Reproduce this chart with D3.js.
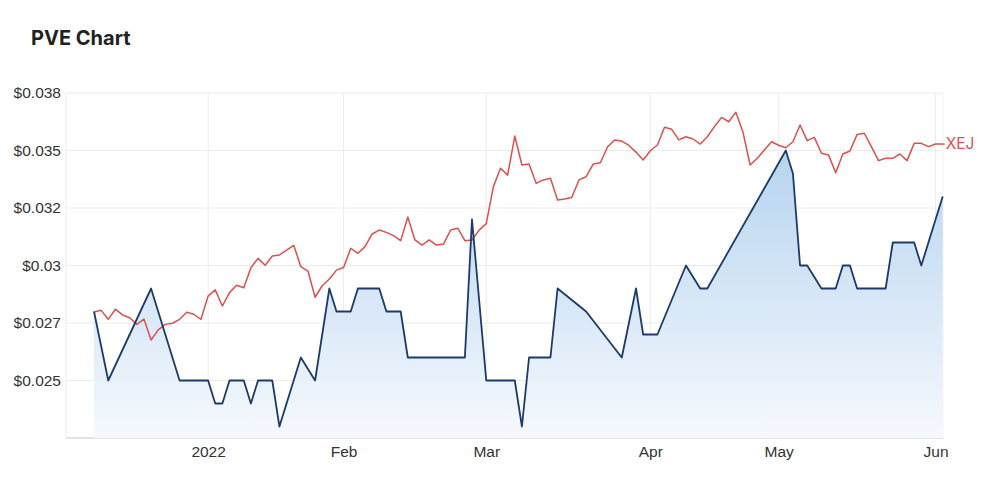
<!DOCTYPE html>
<html lang="en">
<head>
<meta charset="UTF-8">
<title>PVE Chart</title>
<script src="https://d3js.org/d3.v7.min.js"></script>
<style>
  body { margin: 0; background: #fff; }
  svg { display: block; font-family: Inter, "Noto Sans", sans-serif; }
  .title { font-size: 20px; font-weight: 700; fill: #222; }
  .grid line { stroke: #ececec; stroke-width: 1px; }
  .axis text { font-size: 15.5px; fill: #333; }
  .xej { fill: none; stroke: #dc5050; stroke-width: 1.5px; stroke-linejoin: round; }
  .pve { fill: none; stroke: #1c3a6a; stroke-width: 1.8px; stroke-linejoin: round; }
  .xej-label { font-size: 15.5px; fill: #dc5050; }
</style>
</head>
<body>
<svg width="1000" height="494"></svg>
<script>
// trading calendar (ASX): weekdays between first and last day, minus holidays
var firstDay = "2021-12-08", lastDay = "2022-06-02";
var holidays = ["2021-12-27", "2021-12-28", "2022-01-03", "2022-01-26",
                "2022-04-15", "2022-04-18", "2022-04-25"];

// XEJ, one value per trading day
var xejValues = [
  0.02798, 0.02805, 0.02766, 0.02810, 0.02785, 0.02773, 0.02744, 0.02767, 0.02676, 0.02720,
  0.02744, 0.02749, 0.02766, 0.02797, 0.02788, 0.02766, 0.02867, 0.02894, 0.02824, 0.02882,
  0.02914, 0.02903, 0.02990, 0.03031, 0.03001, 0.03041, 0.03046, 0.03067, 0.03088, 0.02995,
  0.02976, 0.02862, 0.02912, 0.02941, 0.02980, 0.02991, 0.03075, 0.03053, 0.03082, 0.03137,
  0.03154, 0.03144, 0.03130, 0.03108, 0.03211, 0.03111, 0.03089, 0.03111, 0.03089, 0.03093,
  0.03154, 0.03162, 0.03108, 0.03111, 0.03154, 0.03182, 0.03343, 0.03423, 0.03393, 0.03563,
  0.03437, 0.03441, 0.03357, 0.03372, 0.03379, 0.03285, 0.03289, 0.03297, 0.03372, 0.03386,
  0.03441, 0.03447, 0.03515, 0.03546, 0.03541, 0.03522, 0.03493, 0.03459, 0.03499, 0.03524,
  0.03601, 0.03592, 0.03546, 0.03560, 0.03550, 0.03528, 0.03560, 0.03604, 0.03644, 0.03625,
  0.03666, 0.03579, 0.03437, 0.03466, 0.03502, 0.03538, 0.03523, 0.03512, 0.03538, 0.03611,
  0.03543, 0.03557, 0.03488, 0.03480, 0.03403, 0.03485, 0.03498, 0.03570, 0.03575, 0.03517,
  0.03456, 0.03466, 0.03466, 0.03485, 0.03456, 0.03531, 0.03531, 0.03517, 0.03528, 0.03528
];

// PVE, traded days only
var pveDates = [
  "2021-12-08", "2021-12-10", "2021-12-20", "2021-12-24", "2022-01-04", "2022-01-05",
  "2022-01-06", "2022-01-07", "2022-01-11", "2022-01-12", "2022-01-13", "2022-01-17",
  "2022-01-18", "2022-01-21", "2022-01-25", "2022-01-28", "2022-01-31", "2022-02-02",
  "2022-02-03", "2022-02-08", "2022-02-09", "2022-02-11", "2022-02-14", "2022-02-24",
  "2022-02-25", "2022-03-01", "2022-03-07", "2022-03-08", "2022-03-09", "2022-03-14",
  "2022-03-15", "2022-03-21", "2022-03-28", "2022-03-30", "2022-03-31", "2022-04-04",
  "2022-04-08", "2022-04-12", "2022-04-13", "2022-05-03", "2022-05-04", "2022-05-05",
  "2022-05-06", "2022-05-10", "2022-05-12", "2022-05-13", "2022-05-16", "2022-05-17",
  "2022-05-23", "2022-05-24", "2022-05-27", "2022-05-30", "2022-06-02"
];
var pveValues = [
  0.028, 0.025, 0.029, 0.025, 0.025, 0.024,
  0.024, 0.025, 0.025, 0.024, 0.025, 0.025,
  0.023, 0.026, 0.025, 0.029, 0.028, 0.028,
  0.029, 0.029, 0.028, 0.028, 0.026, 0.026,
  0.032, 0.025, 0.025, 0.023, 0.026, 0.026,
  0.029, 0.028, 0.026, 0.029, 0.027, 0.027,
  0.030, 0.029, 0.029, 0.035, 0.034, 0.030,
  0.030, 0.029, 0.029, 0.030, 0.030, 0.029,
  0.029, 0.031, 0.031, 0.030, 0.033
];

var yTicks = [0.025, 0.0275, 0.03, 0.0325, 0.035, 0.0375];
var yLabels = ["$0.025", "$0.027", "$0.03", "$0.032", "$0.035", "$0.038"];
var monthLabels = ["2022", "Feb", "Mar", "Apr", "May", "Jun"];

var fmt = d3.timeFormat("%Y-%m-%d"), parse = d3.timeParse("%Y-%m-%d");
var tradingDays = d3.timeDay.range(parse(firstDay), d3.timeDay.offset(parse(lastDay), 1))
    .filter(function(d){ return d.getDay() !== 0 && d.getDay() !== 6; })
    .map(fmt)
    .filter(function(s){ return holidays.indexOf(s) < 0; });

// first trading day of each month from January
var monthTicks = [];
tradingDays.forEach(function(s, i){
    if (s >= "2022-01-01" && (i === 0 || s.slice(0, 7) !== tradingDays[i - 1].slice(0, 7))) monthTicks.push(s);
});

var plot = {left: 66, right: 943, top: 93, bottom: 438};

var x = d3.scalePoint().domain(tradingDays).range([94, 942.7]);
var y = d3.scaleLinear().domain([0.0225, 0.0375]).range([plot.bottom, plot.top]);

var svg = d3.select("svg");

svg.append("text").attr("class", "title").attr("x", 31).attr("y", 45).text("PVE Chart");

var defs = svg.append("defs");
var grad = defs.append("linearGradient").attr("id", "pveFill")
    .attr("gradientUnits", "userSpaceOnUse")
    .attr("x1", 0).attr("x2", 0)
    .attr("y1", y(d3.max(pveValues))).attr("y2", plot.bottom);
grad.append("stop").attr("offset", 0).attr("stop-color", "#b6d4ef");
grad.append("stop").attr("offset", 1).attr("stop-color", "#f6f9fe");

// grid
var grid = svg.append("g").attr("class", "grid");
grid.selectAll("line.h").data(yTicks).enter().append("line")
    .attr("x1", plot.left).attr("x2", plot.right)
    .attr("y1", function(d){ return y(d); }).attr("y2", function(d){ return y(d); });
grid.selectAll("line.v").data(monthTicks).enter().append("line")
    .attr("x1", function(d){ return x(d); }).attr("x2", function(d){ return x(d); })
    .attr("y1", plot.top).attr("y2", plot.bottom);
grid.append("line").attr("x1", plot.left).attr("x2", plot.left)
    .attr("y1", plot.top).attr("y2", plot.bottom);
grid.append("line").attr("x1", plot.right).attr("x2", plot.right)
    .attr("y1", plot.top).attr("y2", plot.bottom).style("stroke", "#f3f3f3");
grid.append("line").attr("x1", plot.left).attr("x2", plot.right)
    .attr("y1", plot.bottom).attr("y2", plot.bottom)
    .style("stroke", "#e3e3e3").style("stroke-width", "2px");

// axes
var yAxis = d3.axisLeft(y).tickValues(yTicks).tickSize(0).tickPadding(5)
    .tickFormat(function(d, i){ return yLabels[i]; });
svg.append("g").attr("class", "axis").attr("transform", "translate(" + plot.left + ",0)")
    .call(yAxis).call(function(g){ g.select(".domain").remove(); })
    .selectAll("text").attr("font-family", null).attr("font-size", null);

var xAxis = d3.axisBottom(x).tickValues(monthTicks).tickSize(0).tickPadding(8)
    .tickFormat(function(d, i){ return monthLabels[i]; });
svg.append("g").attr("class", "axis").attr("transform", "translate(0," + plot.bottom + ")")
    .call(xAxis).call(function(g){ g.select(".domain").remove(); })
    .selectAll("text").attr("font-family", null).attr("font-size", null);

// PVE area + line
var pve = pveDates.map(function(d, i){ return {d: d, v: pveValues[i]}; });
svg.append("path").datum(pve)
    .attr("fill", "url(#pveFill)")
    .attr("d", d3.area()
        .x(function(p){ return x(p.d); })
        .y0(plot.bottom)
        .y1(function(p){ return y(p.v); }));

// XEJ line
svg.append("path").datum(xejValues).attr("class", "xej")
    .attr("d", d3.line()
        .x(function(v, i){ return x(tradingDays[i]); })
        .y(function(v){ return y(v); }));

svg.append("path").datum(pve).attr("class", "pve")
    .attr("d", d3.line()
        .x(function(p){ return x(p.d); })
        .y(function(p){ return y(p.v); }));

var lastX = x(tradingDays[tradingDays.length - 1]);
var lastY = y(xejValues[xejValues.length - 1]);
svg.append("line").attr("x1", lastX).attr("x2", lastX + 2)
    .attr("y1", lastY).attr("y2", lastY)
    .style("stroke", "#dc5050").style("stroke-width", "1.5px");
svg.append("text").attr("class", "xej-label")
    .attr("x", lastX + 3).attr("y", lastY).attr("dy", "0.35em").text("XEJ");
</script>
</body>
</html>
